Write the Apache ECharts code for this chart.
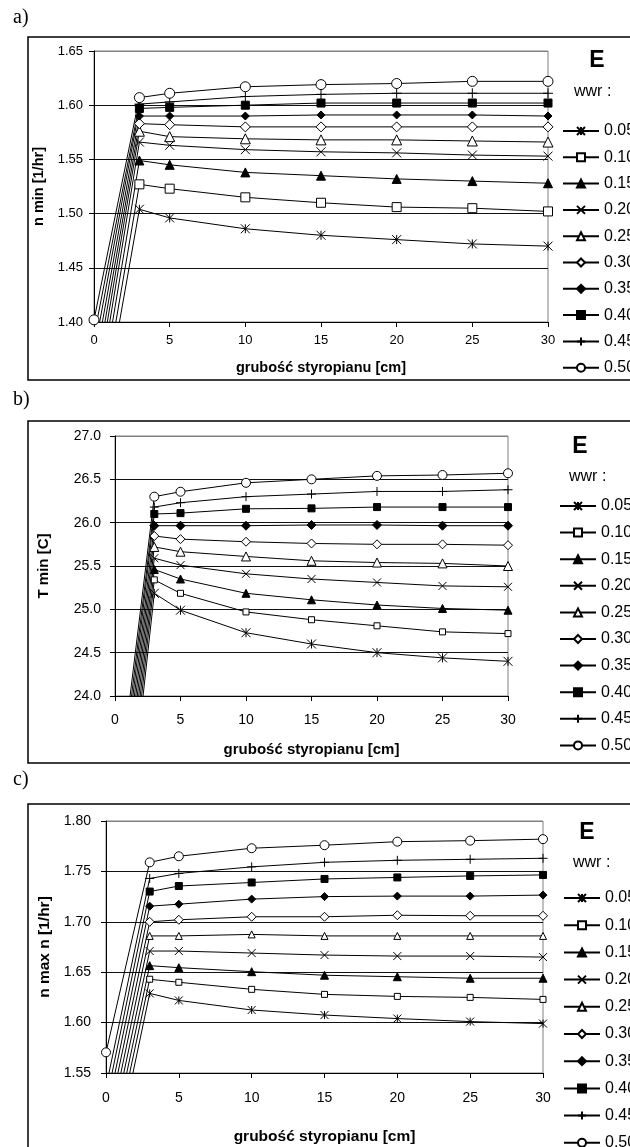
<!DOCTYPE html>
<html>
<head>
<meta charset="utf-8">
<script src="https://cdn.jsdelivr.net/npm/echarts/dist/echarts.min.js"></script>
<style>
    html, body { margin: 0; padding: 0; background: #fff; }
    #chart { width: 630px; height: 1147px; }
</style>
</head>
<body>
<div id="chart"></div>
<script>
// ================* DATA *

// insulation thickness [cm]
const xThick = [0, 3, 5, 10, 15, 20, 25, 30];
const wwr = ['0.05', '0.10', '0.15', '0.20', '0.25', '0.30', '0.35', '0.40', '0.45', '0.50'];

// a) n min [1/hr], one row per wwr
const nMin = [
    [1.267, 1.504, 1.496, 1.486, 1.480, 1.476, 1.472, 1.470],
    [1.282, 1.527, 1.523, 1.515, 1.510, 1.506, 1.505, 1.502],
    [1.297, 1.549, 1.545, 1.538, 1.535, 1.532, 1.530, 1.528],
    [1.312, 1.566, 1.563, 1.559, 1.557, 1.556, 1.554, 1.553],
    [1.327, 1.576, 1.571, 1.569, 1.568, 1.568, 1.567, 1.566],
    [1.342, 1.583, 1.582, 1.580, 1.580, 1.580, 1.580, 1.580],
    [1.357, 1.590, 1.590, 1.590, 1.591, 1.591, 1.591, 1.590],
    [1.372, 1.597, 1.598, 1.600, 1.602, 1.602, 1.602, 1.602],
    [1.387, 1.601, 1.603, 1.608, 1.610, 1.611, 1.611, 1.611],
    [1.402, 1.607, 1.611, 1.617, 1.619, 1.620, 1.622, 1.622]
];

// b) T min [C]
const tMin = [
    [21.05, 25.185, 24.99, 24.73, 24.60, 24.50, 24.44, 24.40],
    [21.20, 25.34, 25.185, 24.97, 24.88, 24.81, 24.74, 24.72],
    [21.40, 25.46, 25.35, 25.185, 25.11, 25.05, 25.01, 24.99],
    [21.58, 25.59, 25.51, 25.41, 25.35, 25.31, 25.27, 25.26],
    [21.75, 25.72, 25.665, 25.61, 25.56, 25.54, 25.53, 25.50],
    [21.92, 25.846, 25.81, 25.78, 25.76, 25.75, 25.75, 25.74],
    [22.09, 25.965, 25.965, 25.965, 25.973, 25.973, 25.965, 25.965],
    [22.24, 26.10, 26.11, 26.16, 26.165, 26.18, 26.18, 26.18],
    [22.42, 26.18, 26.23, 26.30, 26.33, 26.36, 26.36, 26.38],
    [22.57, 26.30, 26.357, 26.46, 26.50, 26.54, 26.55, 26.57]
];

// c) n max n [1/hr]
const nMax = [
    [1.423, 1.629, 1.622, 1.6125, 1.6075, 1.604, 1.601, 1.599],
    [1.440, 1.643, 1.640, 1.633, 1.628, 1.626, 1.625, 1.623],
    [1.454, 1.6565, 1.6545, 1.6505, 1.647, 1.6455, 1.644, 1.644],
    [1.467, 1.671, 1.671, 1.669, 1.667, 1.666, 1.666, 1.665],
    [1.480, 1.686, 1.686, 1.6875, 1.686, 1.686, 1.686, 1.686],
    [1.494, 1.700, 1.702, 1.705, 1.705, 1.7065, 1.706, 1.706],
    [1.507, 1.7155, 1.7175, 1.7225, 1.725, 1.7255, 1.7255, 1.7265],
    [1.521, 1.730, 1.7355, 1.739, 1.7425, 1.744, 1.7455, 1.7465],
    [1.536, 1.743, 1.748, 1.7545, 1.759, 1.761, 1.762, 1.763],
    [1.5705, 1.759, 1.765, 1.773, 1.776, 1.7795, 1.7805, 1.782]
];

// ================* STYLE *

const FONT = '"Liberation Sans", Arial, sans-serif';
const STAR = 'path://M0,0L10,10M10,0L0,10M5,0L5,10';
const XMARK = 'path://M0,0L10,10M10,0L0,10';
const PLUS = 'path://M5,0L5,10M0,5L10,5';

const symbols = [STAR, 'rect', 'triangle', XMARK, 'triangle', 'diamond', 'diamond', 'rect', PLUS, 'circle'];
const filled = [false, false, true, false, false, false, true, true, false, false];

const panels = [
    {
        label: 'a)', labelY: 18, box: [28, 37, 700, 343],
        grid: { left: 94, top: 51, width: 454, height: 271 },
        yMin: 1.40, yMax: 1.65, yStep: 0.05, digits: 2, yName: 'n min [1/hr]', yGap: 44,
        xMargin: 12, yMargin: 11, xNameGap: 38, nameSize: 14.5, tickSize: 13,
        rows: nMin, sizes: [9, 9, 9, 9, 10, 10, 8, 8, 10, 10],
        eX: 597, eY: 61, wwrX: 574, wwrY: 92,
        legendLeft: 562, legendTop: 123, legendGap: 10.3
    },
    {
        label: 'b)', labelY: 400, box: [28, 421, 700, 342],
        grid: { left: 115, top: 436, width: 393, height: 260 },
        yMin: 24.0, yMax: 27.0, yStep: 0.5, digits: 1, yName: 'T min [C]', yGap: 64,
        xMargin: 17, yMargin: 14, xNameGap: 46, nameSize: 15, tickSize: 14,
        rows: tMin, sizes: [9, 6, 8, 8, 9, 9, 9, 7, 9, 9],
        eX: 580, eY: 447, wwrX: 569, wwrY: 477,
        legendLeft: 559, legendTop: 498, legendGap: 10.6
    },
    {
        label: 'c)', labelY: 780, box: [28, 804, 700, 400],
        grid: { left: 106, top: 821, width: 437, height: 252 },
        yMin: 1.55, yMax: 1.80, yStep: 0.05, digits: 2, yName: 'n max n [1/hr]', yGap: 53,
        xMargin: 18, yMargin: 15, xNameGap: 56, nameSize: 15.5, tickSize: 14,
        rows: nMax, sizes: [8, 6, 8, 8, 7, 9, 8, 7, 9, 9],
        eX: 587, eY: 833, wwrX: 573, wwrY: 863,
        legendLeft: 563, legendTop: 890, legendGap: 11.2
    }
];

// ================* BUILD *

let grids = [], xAxes = [], yAxes = [], series = [], legends = [], graphics = [];

panels.forEach(function (p, k) {
    grids.push(Object.assign({
        show: true,
        borderColor: '#808080',
        borderWidth: 1,
        backgroundColor: 'transparent'
    }, p.grid));

    xAxes.push({
        gridIndex: k,
        type: 'value',
        min: 0,
        max: 30,
        interval: 5,
        name: 'grubość styropianu [cm]',
        nameLocation: 'middle',
        nameGap: p.xNameGap,
        nameTextStyle: { fontFamily: FONT, fontWeight: 'bold', fontSize: p.nameSize, color: '#000' },
        axisLine: { show: true, lineStyle: { color: '#000', width: 1 } },
        axisTick: { show: true, inside: false, length: 5, lineStyle: { color: '#000' } },
        axisLabel: { color: '#000', fontFamily: FONT, fontSize: p.tickSize, margin: p.xMargin },
        splitLine: { show: false }
    });

    // gridlines black, top one is the grey plot border
    let nLines = Math.round((p.yMax - p.yMin) / p.yStep) + 1;
    let lineColors = [];
    for (let i = 0; i < nLines; i++) {
        lineColors.push(i == nLines - 1 ? '#808080' : '#111');
    }

    yAxes.push({
        gridIndex: k,
        type: 'value',
        min: p.yMin,
        max: p.yMax,
        interval: p.yStep,
        name: p.yName,
        nameLocation: 'middle',
        nameGap: p.yGap,
        nameTextStyle: { fontFamily: FONT, fontWeight: 'bold', fontSize: p.nameSize, color: '#000' },
        axisLine: { show: true, lineStyle: { color: '#000', width: 1 } },
        axisTick: { show: true, inside: false, length: 5, lineStyle: { color: '#000' } },
        axisLabel: {
            color: '#000', fontFamily: FONT, fontSize: p.tickSize, margin: p.yMargin,
            formatter: function (val) {
                return val.toFixed(p.digits);
            }
        },
        splitLine: { show: true, lineStyle: { color: lineColors, width: 1 } }
    });

    wwr.forEach(function (name, i) {
        series.push({
            name: name,
            type: 'line',
            xAxisIndex: k,
            yAxisIndex: k,
            data: xThick.map(function (x, j) { return [x, p.rows[i][j]]; }),
            symbol: symbols[i],
            symbolSize: p.sizes[i],
            showAllSymbol: true,
            clip: true,
            z: 3,
            lineStyle: { color: '#000', width: 1 },
            itemStyle: { color: filled[i] ? '#000' : '#fff', borderColor: '#000', borderWidth: 1 },
            emphasis: { disabled: true }
        });
    });

    legends.push({
        orient: 'vertical',
        left: p.legendLeft,
        top: p.legendTop,
        height: 300,
        padding: 0,
        itemWidth: 36,
        itemHeight: 10,
        itemGap: p.legendGap,
        selectedMode: false,
        data: wwr,
        textStyle: { color: '#000', fontFamily: FONT, fontSize: 16, lineHeight: 16 }
    });

    // outer frame and captions
    graphics.push({
        type: 'rect',
        silent: true,
        z: -1,
        shape: { x: p.box[0], y: p.box[1], width: p.box[2], height: p.box[3] },
        style: { fill: 'none', stroke: '#000', lineWidth: 1.5 }
    });
    graphics.push({
        type: 'text',
        silent: true,
        style: { text: p.label, x: 13, y: p.labelY, font: '20px "Liberation Serif", serif', fill: '#000', textVerticalAlign: 'middle' }
    });
    graphics.push({
        type: 'text',
        silent: true,
        style: { text: 'E', x: p.eX, y: p.eY, font: 'bold 23px ' + FONT, fill: '#000', textAlign: 'center', textVerticalAlign: 'middle' }
    });
    graphics.push({
        type: 'text',
        silent: true,
        style: { text: 'wwr :', x: p.wwrX, y: p.wwrY, font: '16px ' + FONT, fill: '#000', textVerticalAlign: 'middle' }
    });
});

var chart = echarts.init(document.getElementById('chart'), null, { renderer: 'canvas' });
chart.setOption({
    animation: false,
    backgroundColor: '#fff',
    grid: grids,
    xAxis: xAxes,
    yAxis: yAxes,
    legend: legends,
    graphic: graphics,
    series: series
});
</script>
</body>
</html>
